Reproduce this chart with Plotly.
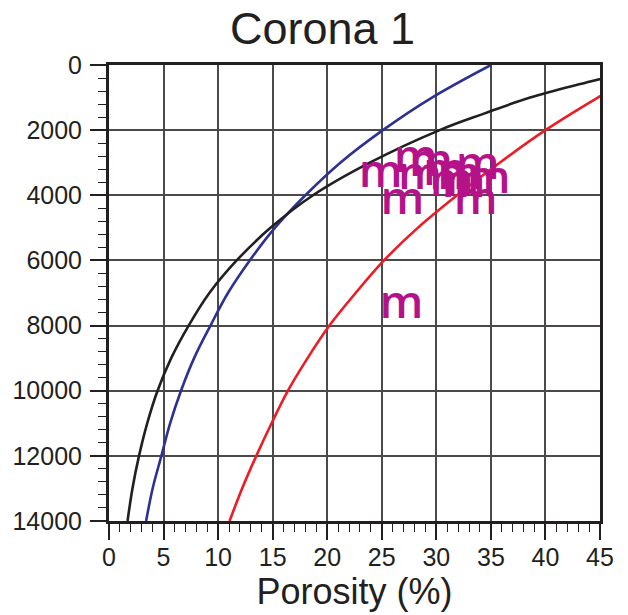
import plotly.graph_objects as go

# Porosity (%) versus depth for the Corona 1 well
# Compaction trend curves, read at the listed depths
blue_depth = [0, 1000, 2000, 3000, 4000, 5000, 6000, 7000, 8000, 9000, 10000, 11000, 12000, 13000, 14000]
blue_por = [35.0, 29.6, 25.1, 21.2, 18.0, 15.2, 12.9, 10.9, 9.3, 7.8, 6.6, 5.6, 4.8, 4.0, 3.4]

black_depth = [0, 500, 1000, 1500, 2000, 3000, 4000, 5000, 6000, 7000, 8000, 9000, 10000, 11000, 12000, 13000, 14000]
black_por = [50.0, 44.2, 38.6, 34.3, 30.3, 23.9, 18.7, 14.8, 11.7, 9.2, 7.3, 5.7, 4.45, 3.5, 2.75, 2.15, 1.7]

red_depth = [0, 1000, 2000, 3000, 4000, 5000, 6000, 7000, 8000, 9000, 10000, 11000, 12000, 13000, 14000]
red_por = [50.0, 44.8, 40.0, 35.8, 31.9, 28.3, 25.2, 22.6, 20.2, 18.2, 16.4, 14.9, 13.5, 12.2, 11.05]

# Measured samples
sample_por = [24.9, 26.9, 28.1, 29.5, 30.8, 32.1, 33.8, 34.8, 32.5, 33.6, 28.5, 31.4, 26.8]
sample_depth = [3400, 4230, 2930, 3060, 3330, 3450, 3150, 3580, 3700, 4230, 3450, 3640, 7400]

x_ticks = [0, 5, 10, 15, 20, 25, 30, 35, 40, 45]
y_ticks = [0, 2000, 4000, 6000, 8000, 10000, 12000, 14000]

INK = "#231f20"
GRID = "#4a4a4a"

fig = go.Figure()
fig.add_trace(go.Scatter(x=blue_por, y=blue_depth, mode="lines", line=dict(color="#2e3192", width=2.6, shape="spline"), showlegend=False))
fig.add_trace(go.Scatter(x=black_por, y=black_depth, mode="lines", line=dict(color=INK, width=2.6, shape="spline"), showlegend=False))
fig.add_trace(go.Scatter(x=red_por, y=red_depth, mode="lines", line=dict(color="#ed1c24", width=2.6, shape="spline"), showlegend=False))
fig.add_trace(go.Scatter(
    x=sample_por, y=sample_depth, mode="text", text=["m"] * len(sample_por),
    textposition="middle center",
    textfont=dict(family="Open Sans", size=46, weight=600, color="#b5128a"),
    showlegend=False, cliponaxis=False,
))

axis_common = dict(
    showline=True, linecolor=INK, linewidth=3, mirror=True,
    showgrid=True, gridcolor=GRID, gridwidth=1.7,
    zeroline=False, ticks="outside", ticklen=16, tickwidth=1.6, tickcolor=INK,
    tickfont=dict(family="Liberation Sans", size=25, color=INK),
)

fig.update_xaxes(
    range=[0, 45], tickvals=x_ticks, ticktext=[str(v) for v in x_ticks],
    minor=dict(dtick=1, ticks="outside", ticklen=8, tickwidth=1.3, tickcolor=INK, showgrid=False),
    title=dict(text="Porosity (%)", font=dict(family="Liberation Sans", size=36, color=INK), standoff=0),
    ticklabelstandoff=-4,
    **axis_common,
)
fig.update_yaxes(
    range=[14000, 0], tickvals=y_ticks, ticktext=[str(v) for v in y_ticks],
    minor=dict(dtick=400, ticks="outside", ticklen=8, tickwidth=1.3, tickcolor=INK, showgrid=False),
    ticklabelstandoff=3,
    **axis_common,
)

fig.add_annotation(
    text="Corona 1", xref="paper", yref="paper", x=0.434, y=1.08,
    xanchor="center", yanchor="middle", showarrow=False,
    font=dict(family="Liberation Sans", size=45, color=INK),
)

fig.update_layout(
    width=628, height=615,
    margin=dict(l=105, r=28, t=65, b=94),
    paper_bgcolor="white", plot_bgcolor="white",
)

fig.write_html("out.html")
